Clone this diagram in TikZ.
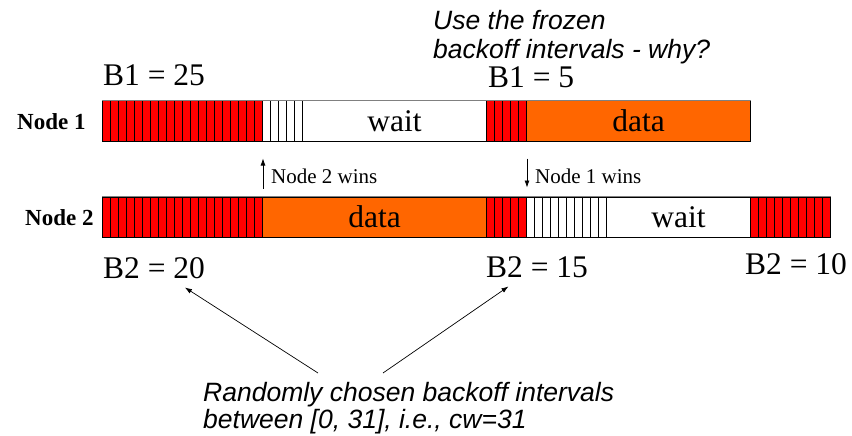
\documentclass[tikz,border=0pt]{standalone}
\usepackage{fontspec}
\setmainfont{Liberation Serif}
\setsansfont{Liberation Sans}
\usetikzlibrary{arrows.meta}

\definecolor{dataorange}{RGB}{255,102,0}

\tikzset{
  slot/.style={draw, line width=1pt, minimum width=8pt, minimum height=40pt, inner sep=0pt, anchor=west},
  busy/.style={slot, fill=red},
  frozen/.style={slot, fill=white},
  span/.style={draw, line width=1pt, minimum width=#1, minimum height=40pt, inner sep=0pt, anchor=west, font=\fontsize{31.5}{36}\selectfont},
  blabel/.style={anchor=base west, inner sep=0pt, font=\fontsize{31.5}{36}\selectfont},
  target/.style={blabel, inner ysep=9pt},
  rowlabel/.style={anchor=base west, inner sep=0pt, font=\fontsize{23}{26}\selectfont\bfseries},
  winlabel/.style={anchor=base west, inner sep=0pt, font=\fontsize{21}{24}\selectfont},
  note/.style={anchor=north west, inner sep=0pt, align=left},
  pointer/.style={-{Latex[length=7pt,width=5pt]}, line width=0.7pt},
}

\begin{document}
\begin{tikzpicture}[x=1pt,y=-1pt]
    \useasboundingbox (0,0) rectangle (852,436);

    % Node 1
    \node[rowlabel] at (17,129) (nd1) {Node 1};
    \foreach \i in {0,...,19} \node[busy] at (102+8*\i,121) (a\i) {};
    \foreach \i in {0,...,4} \node[frozen] at (262+8*\i,121) (b\i) {};
    \node[span=184pt] at (302,121) (wt1) {wait};
    \foreach \i in {0,...,4} \node[busy] at (486+8*\i,121) (c\i) {};
    \node[span=224pt, fill=dataorange] at (526,121) (dt1) {data};
    \draw[gray, line width=1pt] (a0.north west) -- (dt1.north east);

    % Node 2
    \node[rowlabel] at (25,225) (nd2) {Node 2};
    \foreach \i in {0,...,19} \node[busy] at (102+8*\i,217) (d\i) {};
    \node[span=224pt, fill=dataorange] at (262,217) (dt2) {data};
    \foreach \i in {0,...,4} \node[busy] at (486+8*\i,217) (e\i) {};
    \foreach \i in {0,...,9} \node[frozen] at (526+8*\i,217) (f\i) {};
    \node[span=144pt] at (606,217) (wt2) {wait};
    \foreach \i in {0,...,9} \node[busy] at (750+8*\i,217) (g\i) {};
    \draw[gray, line width=1pt] (d0.north west) -- (g9.north east);

    % backoff counters
    \node[blabel] at (103,85) (b125) {B1 = 25};
    \node[blabel] at (488,88) (b15) {B1 = 5};
    \node[target] at (103,278) (b220) {B2 = 20};
    \node[target] at (486,277) (b215) {B2 = 15};
    \node[blabel] at (745,274) (b210) {B2 = 10};

    % who wins
    \draw[pointer, shorten <=8pt, shorten >=17pt] (d19.north east) -- (a19.south east);
    \node[winlabel] at (271,183) (w2) {Node 2 wins};
    \draw[pointer, shorten <=17pt, shorten >=9pt] (c4.south east) -- (e4.north east);
    \node[winlabel] at (535,183) (w1) {Node 1 wins};

    % notes
    \node[note, font=\fontsize{26.5}{29}\selectfont\sffamily\itshape] at (433,10) (why) {Use the frozen\\backoff intervals - why?};
    \node[note, font=\fontsize{26.5}{27}\selectfont\sffamily\itshape] at (203,382) (rand) {Randomly chosen backoff intervals\\between [0, 31], i.e., cw=31};

    \coordinate (t1) at (318,373);
    \coordinate (t2) at (383,373);
    \draw[pointer] (t1) -- (b220);
    \draw[pointer] (t2) -- (b215);
\end{tikzpicture}
\end{document}
